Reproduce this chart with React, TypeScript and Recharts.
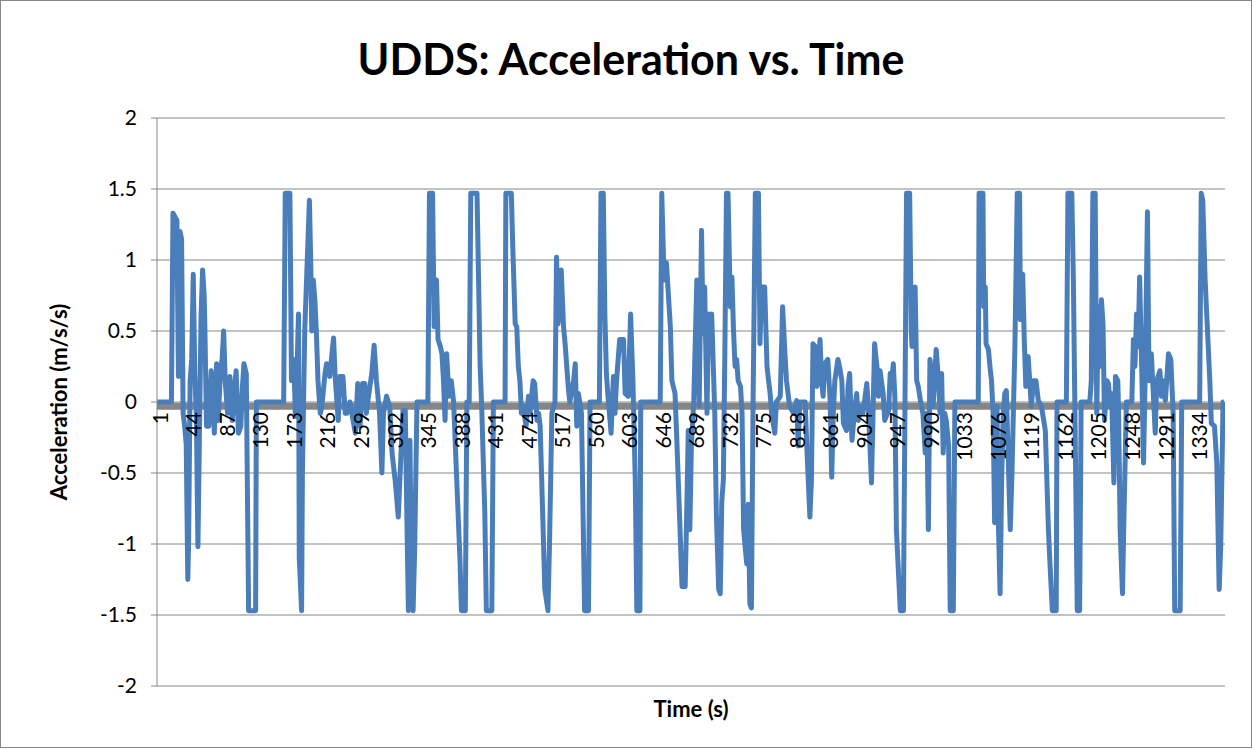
import React from 'react'
import {
  LineChart,
  Line,
  XAxis,
  YAxis,
  CartesianGrid,
  ReferenceLine,
} from 'recharts'

// ---- data (breakpoints of the trace) ----

const TIME = [
  1, 19, 21, 24, 26, 28, 30, 32, 34, 36, 38, 40, 41, 43, 45, 47, 49, 51, 53, 55,
  57, 59, 61, 62, 64, 67, 70, 72, 74, 77, 79, 82, 84, 86, 88, 91, 94, 97, 100, 102,
  105, 108, 110, 112, 115, 118, 127, 128, 163, 165, 171, 173, 176, 178, 180, 182, 183, 186, 187, 190,
  196, 198, 199, 201, 203, 205, 207, 210, 212, 216, 218, 222, 227, 229, 233, 235, 239, 242, 244, 248,
  252, 255, 258, 261, 264, 267, 269, 271, 276, 279, 282, 286, 289, 291, 295, 299, 302, 306, 310, 312,
  316, 319, 321, 323, 325, 327, 329, 331, 334, 348, 350, 354, 356, 359, 361, 364, 366, 368, 370, 372,
  375, 378, 381, 385, 389, 391, 396, 398, 401, 403, 411, 413, 415, 417, 421, 423, 430, 432, 447, 448,
  455, 457, 460, 462, 464, 466, 468, 470, 474, 477, 479, 483, 485, 488, 490, 492, 494, 498, 502, 504,
  507, 511, 513, 515, 519, 522, 524, 528, 530, 535, 537, 539, 541, 545, 547, 549, 554, 556, 568, 570,
  573, 575, 577, 579, 583, 586, 588, 590, 594, 599, 601, 605, 608, 611, 614, 616, 620, 621, 646, 648,
  651, 654, 659, 661, 665, 667, 671, 674, 678, 680, 682, 684, 686, 689, 693, 696, 699, 701, 703, 706,
  708, 710, 712, 714, 716, 718, 721, 723, 725, 727, 729, 731, 733, 736, 738, 740, 742, 744, 746, 749,
  751, 753, 757, 759, 761, 763, 765, 768, 772, 774, 776, 780, 783, 785, 787, 789, 793, 795, 800, 803,
  806, 808, 812, 817, 821, 823, 825, 832, 834, 838, 840, 842, 845, 847, 849, 851, 853, 855, 857, 861,
  864, 866, 868, 870, 874, 876, 879, 881, 885, 887, 889, 892, 896, 898, 900, 904, 906, 911, 913, 917,
  919, 921, 924, 926, 928, 932, 934, 939, 941, 943, 945, 947, 949, 954, 958, 960, 962, 966, 968, 969,
  973, 975, 977, 981, 983, 986, 988, 990, 992, 994, 996, 1000, 1003, 1005, 1007, 1009, 1011, 1013, 1016, 1018,
  1022, 1024, 1054, 1055, 1060, 1061, 1063, 1064, 1067, 1069, 1071, 1073, 1075, 1078, 1080, 1082, 1084, 1086, 1088, 1090,
  1092, 1095, 1097, 1099, 1101, 1104, 1107, 1108, 1111, 1113, 1115, 1118, 1120, 1122, 1125, 1128, 1131, 1135, 1140, 1144,
  1146, 1149, 1154, 1155, 1167, 1169, 1174, 1176, 1178, 1181, 1184, 1186, 1197, 1199, 1201, 1204, 1206, 1208, 1210, 1212,
  1214, 1216, 1219, 1221, 1223, 1225, 1228, 1230, 1233, 1234, 1236, 1239, 1241, 1244, 1251, 1253, 1255, 1257, 1259, 1261,
  1264, 1266, 1268, 1271, 1273, 1276, 1281, 1283, 1287, 1289, 1291, 1294, 1298, 1301, 1304, 1306, 1313, 1315, 1338, 1340,
  1342, 1345, 1349, 1351, 1353, 1357, 1360, 1363, 1365, 1368, 1369,
]

const ACCEL = [
  0, 0, 1.33, 1.3, 1.28, 0.18, 1.2, 1.15, -0.08, -0.17, -0.3, -1.25, -1.0, 0.15, 0.3, 0.9, 0.2, -0.1, -1.02, -0.2,
  0.6, 0.93, 0.75, 0.5, -0.17, -0.17, 0.22, 0.1, -0.22, 0.27, -0.13, 0.22, 0.3, 0.5, 0.15, -0.08, 0.18, -0.13, 0.1, 0.22,
  -0.22, -0.17, 0.1, 0.27, 0.2, -1.47, -1.47, 0, 0, 1.47, 1.47, 0.15, 0.3, -0.1, 0.2, 0.62, -1.1, -1.47, -0.5, 0.5,
  1.42, 0.9, 0.5, 0.86, 0.72, 0.48, 0.15, -0.08, -0.03, 0.2, 0.27, 0.18, 0.45, 0.18, -0.13, 0.18, 0.18, -0.08, -0.08, 0,
  -0.13, -0.22, 0.13, -0.17, 0.13, 0.13, -0.08, 0.01, 0.2, 0.4, 0.15, -0.08, -0.5, -0.08, 0.04, -0.03, -0.36, -0.55, -0.81, -0.55,
  -0.06, -0.06, -0.8, -1.47, -0.27, -1.35, -1.47, -1.05, 0, 0, 1.47, 1.47, 0.53, 0.86, 0.44, 0.39, 0.34, 0.15, -0.13, 0.34,
  0.04, 0.15, 0, -0.55, -1.09, -1.47, -1.47, 0, 0, 1.47, 1.47, 0.86, 0.25, -0.03, -0.78, -1.47, -1.47, 0, 0, 1.47,
  1.47, 1.07, 0.55, 0.53, 0.25, 0.15, -0.08, -0.03, -0.17, 0.04, -0.08, 0.15, 0.13, -0.13, -0.08, -0.17, -0.55, -1.32, -1.47, -1.0,
  -0.08, 0, 1.02, 0.55, 0.93, 0.53, 0.41, 0.11, 0, 0.15, 0.27, -0.17, 0.06, -0.08, -0.78, -1.47, -1.47, 0, 0, 1.47,
  1.47, 0.62, 0.2, 0.04, -0.22, 0.18, -0.08, 0.15, 0.44, 0.44, 0.06, 0.04, 0.62, 0.15, -0.55, -1.47, -1.47, 0, 0, 1.47,
  0.86, 0.98, 0.53, 0.15, 0.06, -0.22, -0.83, -1.3, -1.3, -0.78, -0.2, -0.9, -0.3, 0, 0.86, -0.03, 1.21, 0.48, 0.81, -0.08,
  0.62, 0.48, 0.62, 0.27, -0.08, -0.78, -1.32, -1.35, -0.7, -0.55, 0.39, 1.47, 1.47, 0.67, 0.88, 0.51, 0.25, 0.3, 0.15, 0.11,
  -0.08, -0.9, -1.14, -0.72, -1.42, -1.45, -0.08, 1.47, 1.47, 0.41, 0.81, 0.81, 0.25, 0.15, 0.06, -0.08, -0.22, 0, 0.04, 0.67,
  0.34, 0.15, -0.03, -0.08, 0.01, -0.31, 0, 0, -0.31, -0.81, -0.55, 0.41, 0.39, 0.11, 0.27, 0.44, 0.15, 0.04, 0.27, 0.3,
  0.01, -0.53, -0.08, 0.15, 0.3, 0.25, 0.15, -0.15, -0.2, 0.11, 0.2, -0.27, -0.03, 0.06, -0.13, -0.03, -0.08, 0.13, -0.03, -0.57,
  -0.08, 0.41, 0.25, 0.04, 0.22, 0.06, -0.13, -0.06, 0.2, 0.15, 0.27, 0.04, -0.9, -1.47, -1.47, 0, 1.47, 1.47, 0.5, 0.39,
  0.81, 0.15, 0.11, -0.03, -0.08, -0.36, -0.08, -0.9, 0.3, 0.2, -0.03, 0.37, 0.15, -0.08, 0.2, -0.36, -0.08, -0.13, -0.31, -1.47,
  -1.47, 0, 0, 1.47, 1.47, 0.67, 0.81, 0.41, 0.37, 0.25, 0.15, -0.08, -0.85, -0.03, -0.9, -1.35, -0.55, -0.08, 0.06, 0.08,
  -0.31, -0.9, -0.55, -0.08, 0.39, 1.47, 1.47, 0.58, 0.9, 0.44, 0.11, 0.32, 0.15, -0.03, 0.15, 0.15, 0.01, -0.03, -0.2, -0.9,
  -1.14, -1.47, -1.47, 0, 0, 1.47, 1.47, 0.86, -0.08, -1.47, -1.47, 0, 0, 0.15, 1.47, 1.47, -0.08, 0.67, 0.25, 0.72,
  0.55, -0.13, 0.15, 0.13, -0.03, 0.06, -0.57, 0.18, 0.15, -0.08, -0.9, -1.35, -0.78, 0, 0, 0.44, 0.25, 0.62, 0.39, 0.88,
  0.15, -0.43, 0.15, 1.34, 0.15, 0.34, -0.22, 0.15, 0.22, 0.04, 0.15, 0.01, 0.34, 0.3, -0.08, -1.47, -1.47, 0, 0, 1.47,
  1.42, 0.86, 0.39, 0.15, -0.15, -0.17, -0.43, -1.32, -1.02, 0, 0,
]

const X_TICKS = [
  1, 44, 87, 130, 173, 216, 259, 302, 345, 388, 431, 474, 517, 560, 603, 646,
  689, 732, 775, 818, 861, 904, 947, 990, 1033, 1076, 1119, 1162, 1205, 1248, 1291, 1334,
]
const Y_TICKS = [-2, -1.5, -1, -0.5, 0, 0.5, 1, 1.5, 2]

const chartData = TIME.map((t, i) => ({ t, a: ACCEL[i] }))

// ---- layout ----
const W = 1255
const H = 750
const PLOT_TOP = 118
const PLOT_BOTTOM = 686
const ZERO_Y = (PLOT_TOP + PLOT_BOTTOM) / 2
const FONT = 'Lato, "Open Sans", sans-serif'

// x labels sit under the zero line, rotated
const XTick = (props: any) => {
  const { x, payload } = props
  const y = ZERO_Y + 10
  return (
    <text
      x={x + 2}
      y={y}
      transform={`rotate(-90, ${x + 2}, ${y})`}
      textAnchor="end"
      dominantBaseline="central"
      fontFamily={FONT}
      fontSize={21}
      fill="#000"
    >
      {payload.value}
    </text>
  )
}

export default function App() {
  return (
    <div style={{ position: 'absolute', left: 0, top: 0, width: W, height: H, background: '#fff' }}>
      <LineChart
        width={W}
        height={H}
        data={chartData}
        margin={{ top: PLOT_TOP, right: 30, bottom: 34, left: 77 }}
      >
        <CartesianGrid vertical={false} stroke="#868686" strokeWidth={1} />
        <XAxis
          dataKey="t"
          type="number"
          domain={[0.5, 1370.5]}
          ticks={X_TICKS}
          interval={0}
          allowDataOverflow
          axisLine={false}
          tickLine={false}
          height={30}
          tick={<XTick />}
        />
        <YAxis
          type="number"
          domain={[-2, 2]}
          ticks={Y_TICKS}
          interval={0}
          width={80}
          axisLine={{ stroke: '#868686' }}
          tickLine={{ stroke: '#868686' }}
          tickSize={6}
          tickMargin={14}
          tick={{ fontFamily: FONT, fontSize: 21, fill: '#000' }}
        />
        <ReferenceLine y={-0.03} stroke="#868686" strokeWidth={7} />
        <Line
          dataKey="a"
          type="linear"
          stroke="#4a7ebb"
          strokeWidth={5}
          strokeLinejoin="round"
          dot={false}
          isAnimationActive={false}
        />
      </LineChart>

      {/* titles + chart frame */}
      <svg
        width={W}
        height={H}
        style={{ position: 'absolute', left: 0, top: 0, pointerEvents: 'none' }}
      >
        <rect x={0.5} y={0.5} width={1251} height={747} fill="none" stroke="#868686" />
        <text x={631} y={75} textAnchor="middle" fontFamily={FONT} fontWeight="bold" fontSize={43} fill="#000">
          UDDS: Acceleration vs. Time
        </text>
        <text
          x={58}
          y={ZERO_Y}
          transform={`rotate(-90, 58, ${ZERO_Y})`}
          textAnchor="middle"
          dominantBaseline="central"
          fontFamily={FONT}
          fontWeight="bold"
          fontSize={22}
          fill="#000"
        >
          Acceleration (m/s/s)
        </text>
        <text x={691} y={717} textAnchor="middle" fontFamily={FONT} fontWeight="bold" fontSize={22} fill="#000">
          Time (s)
        </text>
      </svg>
    </div>
  )
}
